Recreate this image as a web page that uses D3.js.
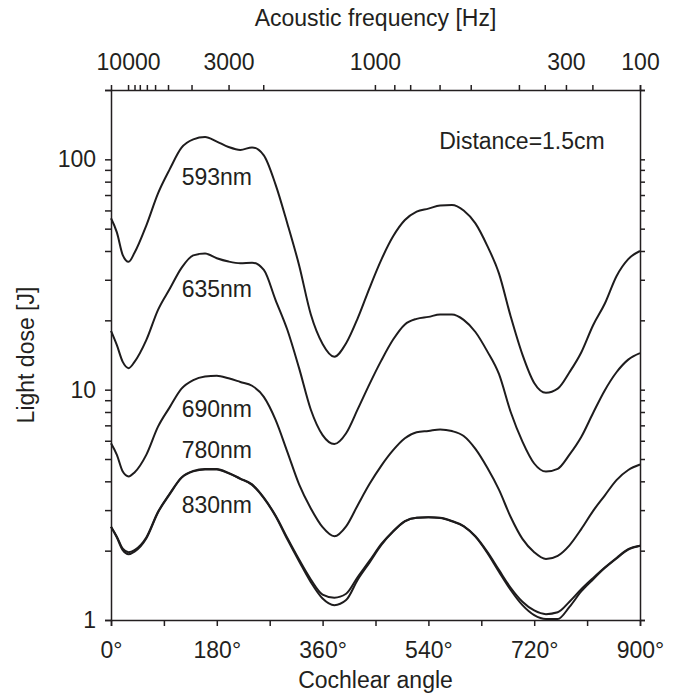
<!DOCTYPE html>
<html>
<head>
<meta charset="utf-8">
<script src="https://cdn.jsdelivr.net/npm/d3@7"></script>
<style>
    body { margin: 0; background: #fff; }
    text { font-family: "Liberation Sans", Arial, sans-serif; fill: #231f20; }
</style>
</head>
<body>
<svg id="chart"></svg>
<script>
// cochlear angle (deg) shared by all curves
var angles = [0, 10, 20, 30, 40, 60, 80, 100, 120, 140, 160, 180, 200, 220, 240, 260, 280, 300, 320, 340,
    360, 380, 400, 420, 440, 460, 480, 500, 520, 540, 560, 580, 600, 620, 640, 660, 680, 700, 720, 740,
    760, 780, 800, 820, 840, 860, 880, 900];

// light dose [J] per wavelength
var dose593 = [55.5, 48.2, 38.4, 35.9, 39.3, 51.6, 71.2, 90.7, 112.3, 122.0, 124.9, 119.4, 113.1, 109.9, 112.7, 104.1, 77.7, 52.7, 34.7, 21.2,
    15.8, 13.9, 15.9, 20.5, 27.7, 36.7, 46.3, 54.5, 59.3, 61.1, 63.1, 63.4, 60.0, 52.7, 42.2, 32.0, 20.8, 14.2, 10.7, 9.7,
    10.1, 11.9, 14.5, 19.0, 23.6, 31.1, 36.9, 40.0];
var dose635 = [18.0, 15.6, 13.2, 12.4, 13.2, 16.4, 22.2, 27.4, 33.8, 38.3, 39.0, 37.2, 36.0, 35.4, 35.6, 33.1, 24.5, 18.2, 12.4, 8.18,
    6.35, 5.81, 6.47, 8.25, 10.6, 13.4, 16.5, 19.2, 20.3, 20.7, 21.2, 21.2, 20.1, 17.8, 14.7, 11.7, 8.0, 5.95, 4.78, 4.41,
    4.53, 5.22, 6.23, 7.90, 9.92, 11.9, 13.5, 14.4];
var dose690 = [5.85, 5.21, 4.41, 4.20, 4.37, 5.21, 6.91, 8.40, 10.1, 11.0, 11.4, 11.5, 11.2, 10.8, 10.4, 9.30, 7.39, 5.37, 3.88, 3.05,
    2.53, 2.31, 2.55, 3.16, 3.90, 4.68, 5.46, 6.15, 6.53, 6.62, 6.72, 6.61, 6.29, 5.53, 4.59, 3.68, 2.80, 2.25, 1.97, 1.84,
    1.90, 2.11, 2.48, 2.97, 3.47, 4.05, 4.48, 4.73];
var dose780 = [2.54, 2.30, 2.04, 1.97, 2.01, 2.28, 2.95, 3.54, 4.16, 4.44, 4.53, 4.53, 4.35, 4.11, 3.88, 3.40, 2.84, 2.27, 1.83, 1.50,
    1.29, 1.25, 1.30, 1.54, 1.81, 2.14, 2.43, 2.69, 2.78, 2.79, 2.78, 2.69, 2.56, 2.31, 1.98, 1.65, 1.38, 1.20, 1.10, 1.06,
    1.08, 1.20, 1.36, 1.52, 1.69, 1.86, 2.03, 2.10];
var dose830 = [2.54, 2.28, 2.01, 1.93, 1.98, 2.26, 2.93, 3.52, 4.14, 4.42, 4.50, 4.50, 4.33, 4.10, 3.86, 3.38, 2.82, 2.24, 1.80, 1.46,
    1.24, 1.16, 1.22, 1.50, 1.78, 2.12, 2.42, 2.68, 2.78, 2.79, 2.77, 2.68, 2.55, 2.30, 1.96, 1.62, 1.35, 1.16, 1.05, 1.01,
    1.01, 1.14, 1.33, 1.50, 1.68, 1.85, 2.02, 2.10];

// curve labels: text, angle and dose of the baseline
var curveNames = ["593nm", "635nm", "690nm", "780nm", "830nm"];
var labelDose = [77, 25.3, 7.63, 5.04, 2.91];
var labelAngle = 180;

// axis ticks
var angleTicks = [0, 90, 180, 270, 360, 450, 540, 630, 720, 810, 900];
var doseTicks = [1, 2, 3, 4, 5, 6, 7, 8, 9, 10, 20, 30, 40, 50, 60, 70, 80, 90, 100, 200];
var doseLabels = [1, 10, 100];
// place-frequency map
var freqTicks = [10000, 9000, 8000, 7000, 6000, 5000, 4000, 3000, 2000, 1000, 900, 800, 700, 600, 500, 400, 300, 200, 100];
var freqAngles = [29, 40, 49, 61, 75, 97, 137, 200, 259, 449, 482, 509, 559, 612, 694, 738, 774, 819, 900];
var freqLabels = [10000, 3000, 1000, 300, 100];

var svgW = 674, svgH = 696;
var padding = { left: 111, right: 34, top: 90, bottom: 76 };
var fontSize = 23;
var ink = "#231f20";

var svg = d3.select("#chart").attr("width", svgW).attr("height", svgH);

var xScale = d3.scaleLinear().domain([0, 900]).range([padding.left, svgW - padding.right]);
var yScale = d3.scaleLog().domain([1, 200]).range([svgH - padding.bottom, padding.top]);
var freqScale = d3.scaleLog().domain(freqTicks).range(freqAngles.map(function (a) { return xScale(a); }));

var styleAxis = function (g) {
    g.selectAll("path, line").attr("stroke", ink).attr("stroke-width", 1.5);
    g.selectAll("text").attr("font-size", fontSize).attr("fill", ink)
        .attr("font-family", "Liberation Sans, Arial, sans-serif");
};

// bottom: cochlear angle
svg.append("g")
    .attr("transform", `translate(0,${yScale(1)})`)
    .call(d3.axisBottom(xScale)
        .tickValues(angleTicks)
        .tickSize(6)
        .tickPadding(16)
        .tickFormat(function (d) { return d % 180 === 0 ? d + "°" : ""; }))
    .call(styleAxis);

// left: light dose
svg.append("g")
    .attr("transform", `translate(${xScale(0)},0)`)
    .call(d3.axisLeft(yScale)
        .tickValues(doseTicks)
        .tickSize(6)
        .tickPadding(9)
        .tickFormat(function (d) { return doseLabels.includes(d) ? d : ""; }))
    .call(styleAxis);

// right: ticks only
svg.append("g")
    .attr("transform", `translate(${xScale(900)},0)`)
    .call(d3.axisRight(yScale).tickValues(doseTicks).tickSize(5).tickFormat(""))
    .call(styleAxis);

// top frame line
svg.append("g")
    .attr("transform", `translate(0,${yScale(200)})`)
    .call(d3.axisTop(xScale).tickValues([]).tickSizeOuter(5))
    .call(styleAxis);

// top: acoustic frequency
svg.append("g")
    .attr("transform", `translate(0,${yScale(200)})`)
    .call(d3.axisTop(freqScale)
        .tickValues(freqTicks)
        .tickSize(5)
        .tickPadding(15)
        .tickFormat(function (d) { return freqLabels.includes(d) ? d : ""; }))
    .call(function (g) { g.select(".domain").remove(); })
    .call(styleAxis);

// curves
var line = d3.line()
    .x(function (d) { return xScale(d[0]); })
    .y(function (d) { return yScale(d[1]); })
    .curve(d3.curveMonotoneX);

[dose593, dose635, dose690, dose780, dose830].forEach(function (values) {
    svg.append("path")
        .datum(d3.zip(angles, values))
        .attr("fill", "none")
        .attr("stroke", "#1e1c1d")
        .attr("stroke-width", 2)
        .attr("stroke-linejoin", "round")
        .attr("d", line);
});

curveNames.forEach(function (name, i) {
    svg.append("text")
        .attr("x", xScale(labelAngle))
        .attr("y", yScale(labelDose[i]))
        .attr("text-anchor", "middle")
        .attr("font-size", fontSize)
        .text(name);
});

svg.append("text")
    .attr("x", xScale(840))
    .attr("y", yScale(111))
    .attr("text-anchor", "end")
    .attr("font-size", fontSize)
    .text("Distance=1.5cm");

// axis titles
svg.append("text")
    .attr("x", (xScale(0) + xScale(900)) / 2)
    .attr("y", 26)
    .attr("text-anchor", "middle")
    .attr("font-size", fontSize)
    .text("Acoustic frequency [Hz]");

svg.append("text")
    .attr("x", (xScale(0) + xScale(900)) / 2)
    .attr("y", 688)
    .attr("text-anchor", "middle")
    .attr("font-size", fontSize)
    .text("Cochlear angle");

svg.append("text")
    .attr("transform", `translate(34,${(yScale(1) + yScale(200)) / 2}) rotate(-90)`)
    .attr("text-anchor", "middle")
    .attr("font-size", fontSize)
    .text("Light dose [J]");
</script>
</body>
</html>
